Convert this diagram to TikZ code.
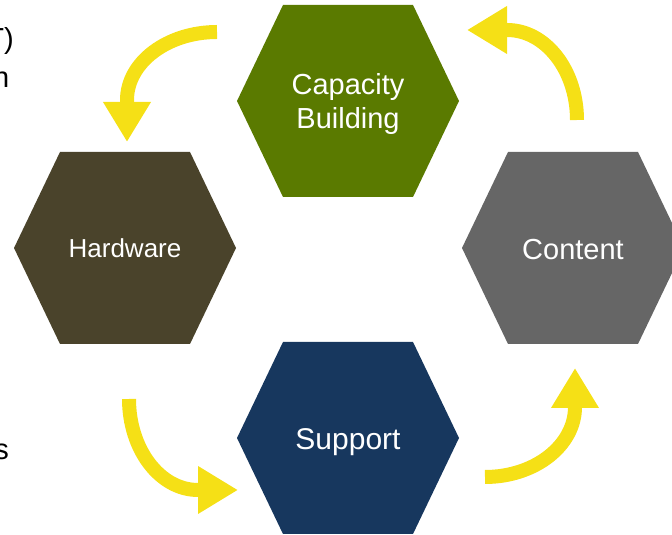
\documentclass[tikz,border=0pt]{standalone}
\usepackage{fontspec}
\setmainfont{Liberation Sans}
\usetikzlibrary{arrows.meta}

\definecolor{capgreen}{HTML}{5A7A00}
\definecolor{hwbrown}{HTML}{4A432B}
\definecolor{contgrey}{HTML}{666666}
\definecolor{supblue}{HTML}{17375E}
\definecolor{cycleyellow}{HTML}{F5E016}

\begin{document}
\begin{tikzpicture}[x=1pt, y=1pt,
		label/.style={text=white, align=center, inner sep=0pt},
		cyclearrow/.style={draw=cycleyellow, line width=14pt, -{Triangle[length=40pt, width=45pt]}},
		sidetext/.style={anchor=base east, inner sep=0pt, font=\fontsize{29}{34}\selectfont}]
		\useasboundingbox (0,0) rectangle (672,535);
		
		\coordinate (cap) at (348,434);
		\coordinate (hw) at (125,287);
		\coordinate (cont) at (573,287);
		\coordinate (sup) at (348,97);
		
		% hexagons
		\fill[capgreen] (cap) ++(-111,0) -- ++(46,96) -- ++(130,0) -- ++(46,-96) -- ++(-46,-96) -- ++(-130,0) -- cycle;
		\fill[hwbrown] (hw) ++(-111,0) -- ++(46,96) -- ++(130,0) -- ++(46,-96) -- ++(-46,-96) -- ++(-130,0) -- cycle;
		\fill[contgrey] (cont) ++(-111,0) -- ++(46,96) -- ++(130,0) -- ++(46,-96) -- ++(-46,-96) -- ++(-130,0) -- cycle;
		\fill[supblue] (sup) ++(-111,0) -- ++(46,96) -- ++(130,0) -- ++(46,-96) -- ++(-46,-96) -- ++(-130,0) -- cycle;
		
		\node[label, font=\fontsize{29}{34}\selectfont, yshift=-3] (caplabel) at (cap) {Capacity\\Building};
		\node[label, font=\fontsize{26}{30}\selectfont, anchor=base] (hwlabel) at (125,277) {Hardware};
		\node[label, font=\fontsize{29}{34}\selectfont, anchor=base] (contlabel) at (573,275) {Content};
		\node[label, font=\fontsize{30}{34}\selectfont, anchor=base] (suplabel) at (348,85) {Support};
		
		% arrows round the cycle
		\coordinate (a1) at (217,503);
		\coordinate (a2) at (577,415);
		\coordinate (a3) at (129,136);
		\coordinate (a4) at (485,58);
		\draw[cyclearrow] (a1) arc[start angle=90, end angle=180, x radius=90, y radius=68] -- ++(0,-42);
		\draw[cyclearrow] (a2) arc[start angle=0, end angle=90, x radius=70, y radius=90] -- ++(-40,0);
		\draw[cyclearrow] (a3) arc[start angle=180, end angle=270, x radius=69, y radius=91] -- ++(40,0);
		\draw[cyclearrow] (a4) arc[start angle=270, end angle=360, x radius=90, y radius=70] -- ++(0,39);
		
		% cut-off text on the left
		\node[sidetext] (txta) at (14,486) {T)};
		\node[sidetext] (txtb) at (9.5,447) {n};
		\node[sidetext] (txtc) at (9,75) {s};
	\end{tikzpicture}
\end{document}
